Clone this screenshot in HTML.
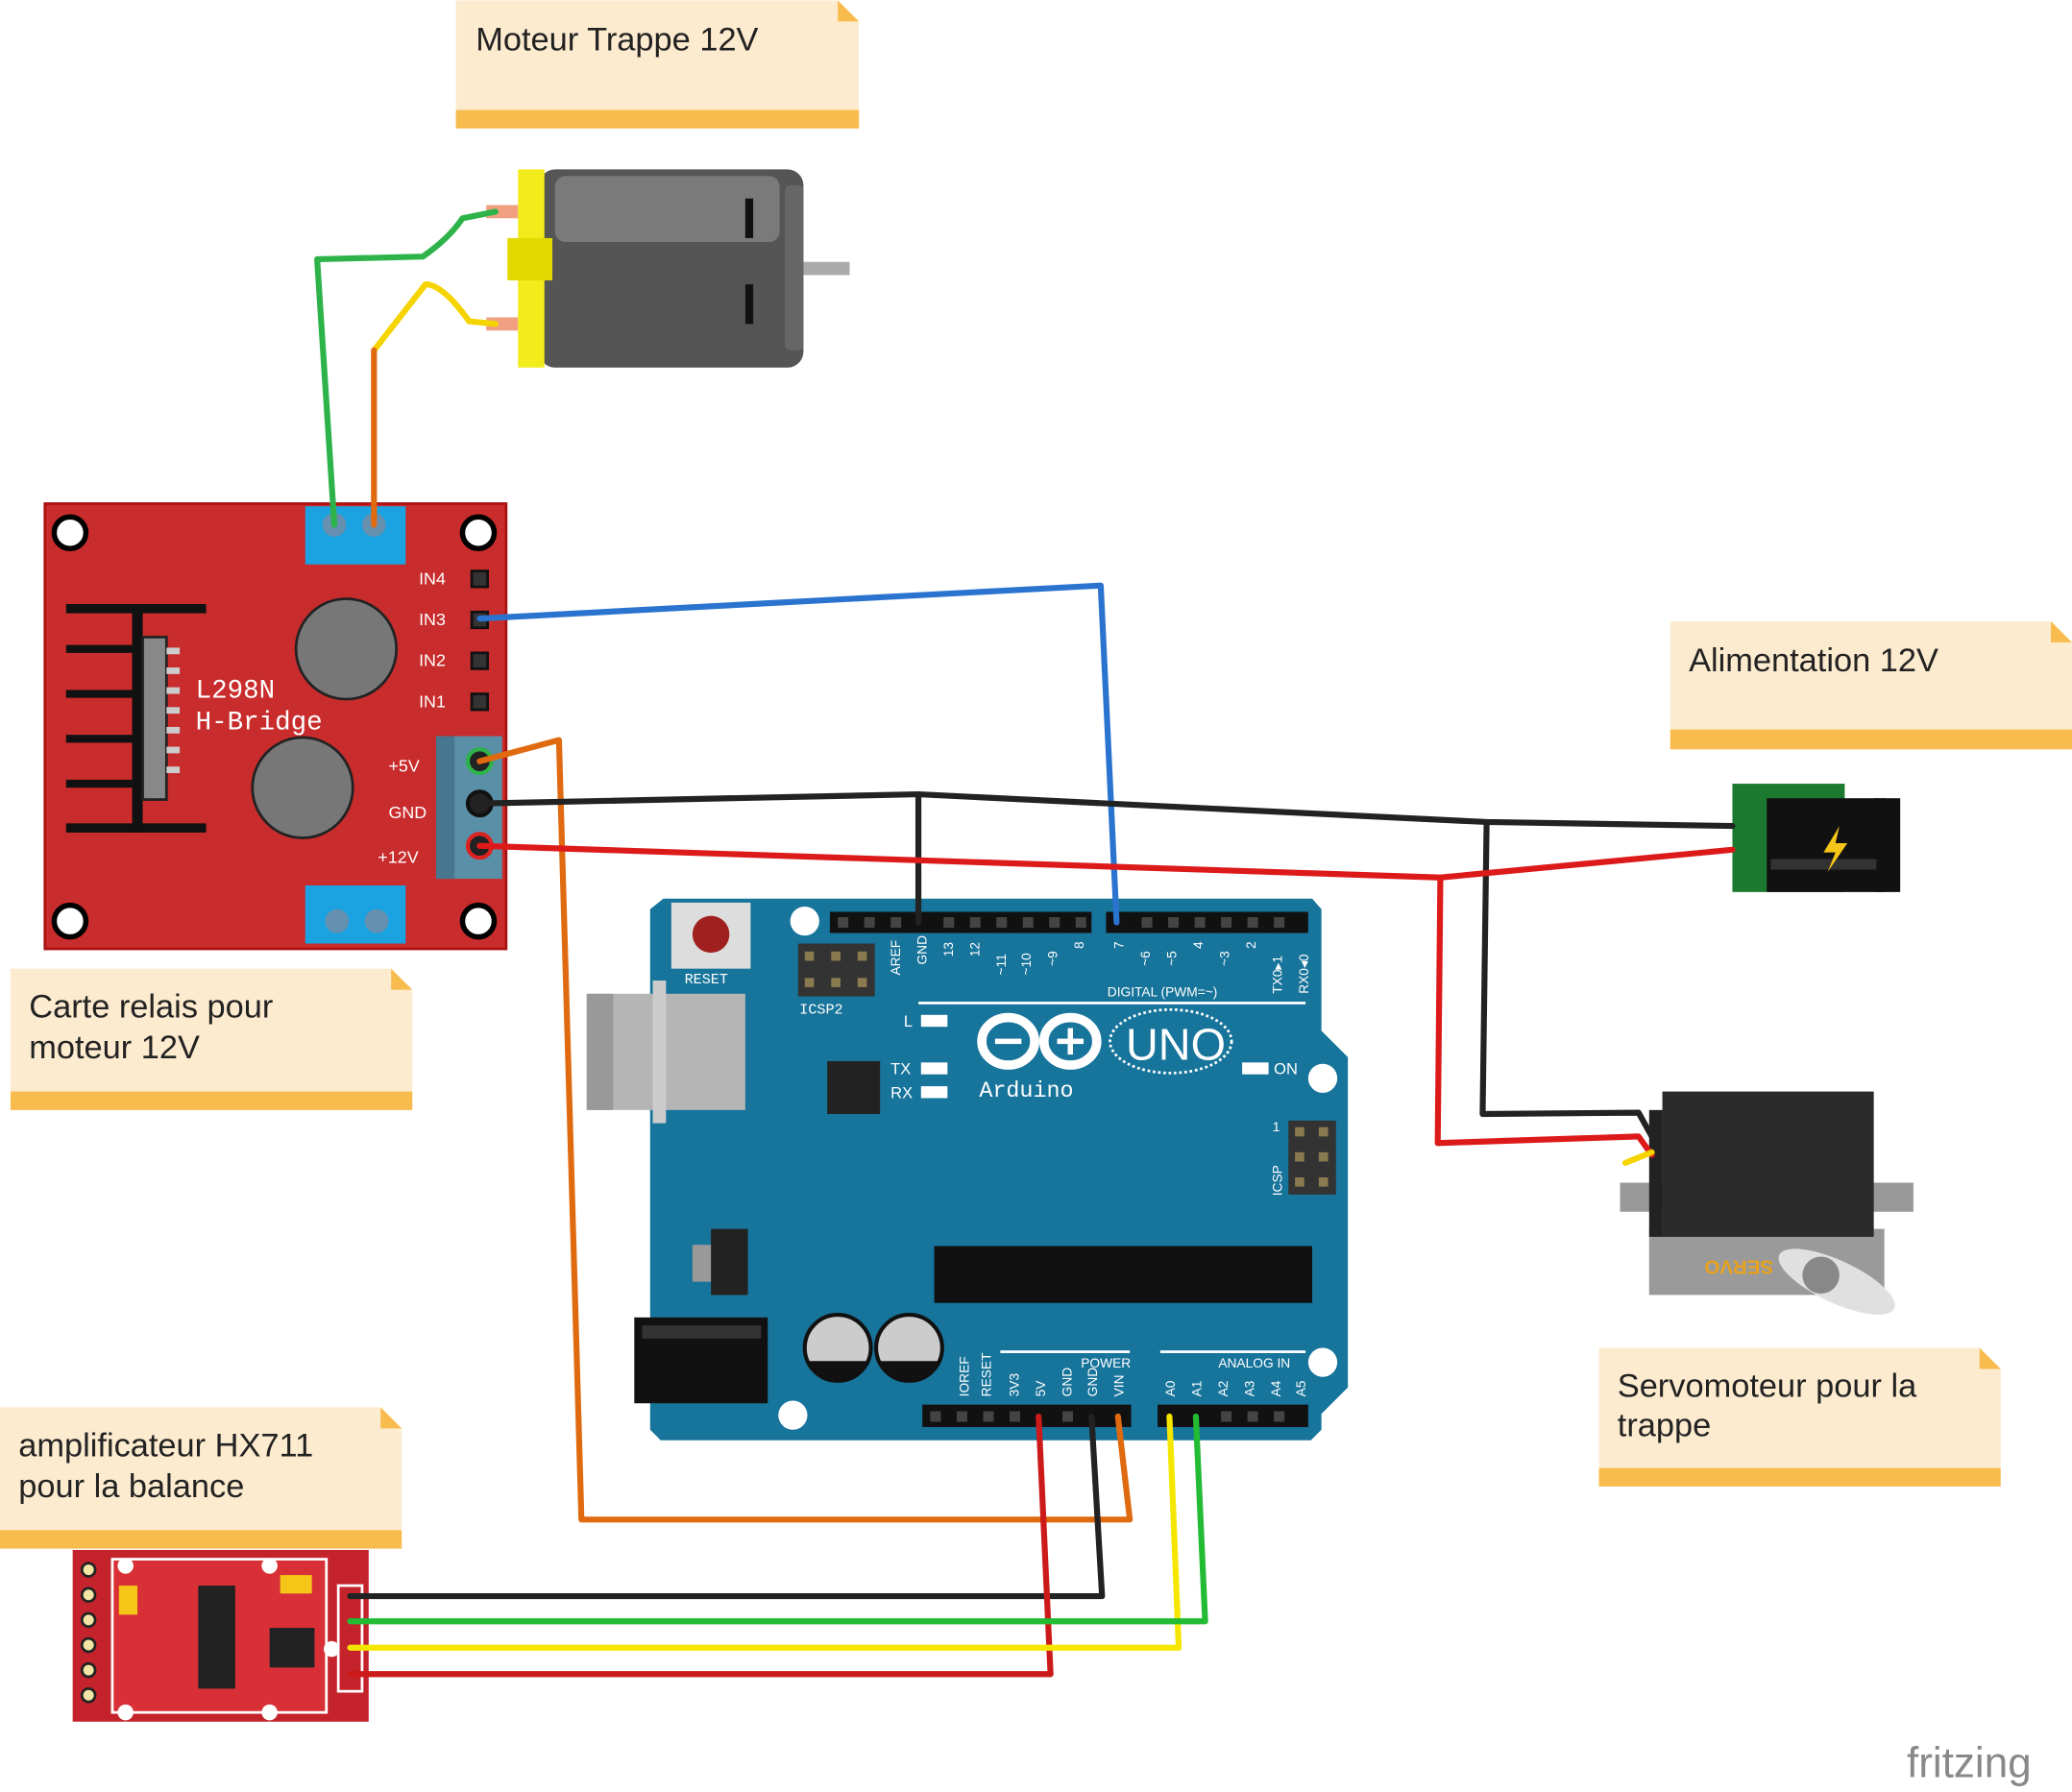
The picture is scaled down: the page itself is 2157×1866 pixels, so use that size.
<!DOCTYPE html>
<html><head><meta charset="utf-8"><style>
html,body{margin:0;padding:0;background:#fff;}
svg{display:block;}
text{font-family:"Liberation Sans",sans-serif;}
.m{font-family:"Liberation Mono",monospace;}
</style></head><body>
<svg width="2157" height="1866" viewBox="0 0 1568 1356" xmlns="http://www.w3.org/2000/svg">
<rect width="1568" height="1356" fill="#fff"/>
<g>
<path d="M345 0 H634 L650 16 V97 H345 Z" fill="#fdebcf"/><rect x="345" y="83" width="305" height="14" fill="#f8bb4d"/><path d="M634 0 L650 16 H634 Z" fill="#f8bb4d"/>
<text x="360" y="38" font-size="25" fill="#222">Moteur Trappe 12V</text>
<path d="M1264 470 H1552 L1568 486 V567 H1264 Z" fill="#fdebcf"/><rect x="1264" y="552" width="304" height="15" fill="#f8bb4d"/><path d="M1552 470 L1568 486 H1552 Z" fill="#f8bb4d"/>
<text x="1278" y="508" font-size="25" fill="#222">Alimentation 12V</text>
<path d="M8 733 H296 L312 749 V840 H8 Z" fill="#fdebcf"/><rect x="8" y="826" width="304" height="14" fill="#f8bb4d"/><path d="M296 733 L312 749 H296 Z" fill="#f8bb4d"/>
<text x="22" y="770" font-size="25" fill="#222">Carte relais pour</text><text x="22" y="801" font-size="25" fill="#222">moteur 12V</text>
<path d="M0 1065 H288 L304 1081 V1172 H0 Z" fill="#fdebcf"/><rect x="0" y="1158" width="304" height="14" fill="#f8bb4d"/><path d="M288 1065 L304 1081 H288 Z" fill="#f8bb4d"/>
<text x="14" y="1102" font-size="25" fill="#222">amplificateur HX711</text><text x="14" y="1133" font-size="25" fill="#222">pour la balance</text>
<path d="M1210 1020 H1498 L1514 1036 V1125 H1210 Z" fill="#fdebcf"/><rect x="1210" y="1111" width="304" height="14" fill="#f8bb4d"/><path d="M1498 1020 L1514 1036 H1498 Z" fill="#f8bb4d"/>
<text x="1224" y="1057" font-size="25" fill="#222">Servomoteur pour  la</text><text x="1224" y="1087" font-size="25" fill="#222">trappe</text>
</g>
<g>
<rect x="600" y="198" width="43" height="10" fill="#aaa"/>
<rect x="408" y="128" width="200" height="150" rx="12" fill="#555"/>
<rect x="420" y="133" width="170" height="50" rx="8" fill="#7a7a7a"/>
<rect x="594" y="140" width="14" height="125" rx="4" fill="#666"/>
<rect x="564" y="150" width="6" height="30" fill="#111"/><rect x="564" y="215" width="6" height="30" fill="#111"/>
<rect x="392" y="128" width="20" height="150" fill="#f2ec1c"/>
<rect x="384" y="180" width="34" height="32" fill="#e3d800"/>
<rect x="368" y="155" width="24" height="10" fill="#f0a080"/><rect x="368" y="240" width="24" height="10" fill="#f0a080"/>
</g>
<g>
<rect x="34" y="381" width="349" height="337" fill="#c92c2c" stroke="#a11" stroke-width="2"/>
<circle cx="53" cy="403" r="12" fill="#fff" stroke="#000" stroke-width="4"/><circle cx="362" cy="403" r="12" fill="#fff" stroke="#000" stroke-width="4"/>
<circle cx="53" cy="697" r="12" fill="#fff" stroke="#000" stroke-width="4"/><circle cx="362" cy="697" r="12" fill="#fff" stroke="#000" stroke-width="4"/>
<rect x="231" y="383" width="76" height="44" fill="#1aa3e0"/><circle cx="253" cy="397" r="9" fill="#6690b0"/><circle cx="283" cy="397" r="9" fill="#6690b0"/>
<rect x="231" y="670" width="76" height="44" fill="#1aa3e0"/><circle cx="255" cy="697" r="9" fill="#6690b0"/><circle cx="285" cy="697" r="9" fill="#6690b0"/>
<g fill="#111"><rect x="50" y="457" width="106" height="7"/><rect x="50" y="623" width="106" height="7"/>
<rect x="50" y="488" width="56" height="6"/><rect x="50" y="522" width="56" height="6"/><rect x="50" y="556" width="56" height="6"/><rect x="50" y="590" width="56" height="6"/>
<rect x="100" y="457" width="8" height="173"/></g>
<rect x="108" y="482" width="18" height="123" fill="#888" stroke="#222" stroke-width="2"/>
<g fill="#ccc"><rect x="126" y="490" width="10" height="5"/><rect x="126" y="505" width="10" height="5"/><rect x="126" y="520" width="10" height="5"/><rect x="126" y="535" width="10" height="5"/><rect x="126" y="550" width="10" height="5"/><rect x="126" y="565" width="10" height="5"/><rect x="126" y="580" width="10" height="5"/></g>
<circle cx="262" cy="491" r="38" fill="#777" stroke="#222" stroke-width="2"/>
<circle cx="229" cy="596" r="38" fill="#777" stroke="#222" stroke-width="2"/>
<text x="148" y="528" class="m" font-size="20" fill="#fff">L298N</text><text x="148" y="552" class="m" font-size="20" fill="#fff">H-Bridge</text>
<g class="m" font-size="13" fill="#fff"><text x="317" y="442">IN4</text><text x="317" y="473">IN3</text><text x="317" y="504">IN2</text><text x="317" y="535">IN1</text>
<text x="294" y="584">+5V</text><text x="294" y="619">GND</text><text x="286" y="653">+12V</text></g>
<g fill="#333" stroke="#111" stroke-width="2"><rect x="357" y="432" width="12" height="12"/><rect x="357" y="463" width="12" height="12"/><rect x="357" y="494" width="12" height="12"/><rect x="357" y="525" width="12" height="12"/></g>
<rect x="330" y="557" width="50" height="108" fill="#5a8fa8"/><rect x="330" y="557" width="14" height="108" fill="#47778f"/>
<circle cx="363" cy="576" r="9" fill="#222" stroke="#2db34a" stroke-width="3"/><circle cx="363" cy="608" r="9" fill="#222" stroke="#111" stroke-width="3"/><circle cx="363" cy="640" r="9" fill="#222" stroke="#d22" stroke-width="3"/>
</g>
<g>
<path d="M502 680 H993 L1000 688 V780 L1020 800 V1050 L1000 1070 V1082 L992 1090 H500 L492 1082 V688 Z" fill="#17749b"/>
<rect x="444" y="752" width="120" height="88" fill="#b5b5b5"/><rect x="444" y="752" width="20" height="88" fill="#999"/>
<rect x="494" y="742" width="10" height="108" fill="#ccc"/>
<rect x="480" y="997" width="101" height="65" fill="#111"/><rect x="486" y="1003" width="90" height="10" fill="#333"/>
<rect x="508" y="683" width="60" height="50" fill="#ddd"/><circle cx="538" cy="707" r="14" fill="#a02020"/>
<text x="518" y="744" class="m" font-size="11" fill="#fff">RESET</text>
<rect x="604" y="714" width="58" height="40" fill="#333"/>
<g fill="#8a7a50"><rect x="609" y="720" width="7" height="7"/><rect x="629" y="720" width="7" height="7"/><rect x="649" y="720" width="7" height="7"/><rect x="609" y="740" width="7" height="7"/><rect x="629" y="740" width="7" height="7"/><rect x="649" y="740" width="7" height="7"/></g>
<text x="605" y="767" class="m" font-size="11" fill="#fff">ICSP2</text>
<rect x="626" y="803" width="40" height="40" fill="#222"/>
<rect x="628" y="690" width="198" height="16" fill="#111"/><rect x="837" y="690" width="153" height="16" fill="#111"/>
<rect x="698" y="1063" width="158" height="17" fill="#111"/><rect x="876" y="1063" width="114" height="17" fill="#111"/>
<g fill="#444"><rect x="634" y="694" width="8" height="8"/><rect x="654" y="694" width="8" height="8"/><rect x="674" y="694" width="8" height="8"/><rect x="714" y="694" width="8" height="8"/><rect x="734" y="694" width="8" height="8"/><rect x="754" y="694" width="8" height="8"/><rect x="774" y="694" width="8" height="8"/><rect x="794" y="694" width="8" height="8"/><rect x="814" y="694" width="8" height="8"/>
<rect x="864" y="694" width="8" height="8"/><rect x="884" y="694" width="8" height="8"/><rect x="904" y="694" width="8" height="8"/><rect x="924" y="694" width="8" height="8"/><rect x="944" y="694" width="8" height="8"/><rect x="964" y="694" width="8" height="8"/>
<rect x="704" y="1068" width="8" height="8"/><rect x="724" y="1068" width="8" height="8"/><rect x="744" y="1068" width="8" height="8"/><rect x="764" y="1068" width="8" height="8"/><rect x="804" y="1068" width="8" height="8"/><rect x="924" y="1068" width="8" height="8"/><rect x="944" y="1068" width="8" height="8"/><rect x="964" y="1068" width="8" height="8"/></g>
<g class="m" font-size="10" fill="#fff">
<text transform="translate(681 738) rotate(-90)">AREF</text><text transform="translate(701 730) rotate(-90)">GND</text>
<text transform="translate(721 724) rotate(-90)">13</text><text transform="translate(741 724) rotate(-90)">12</text><text transform="translate(761 738) rotate(-90)">~11</text><text transform="translate(780 738) rotate(-90)">~10</text><text transform="translate(800 731) rotate(-90)">~9</text><text transform="translate(820 718) rotate(-90)">8</text>
<text transform="translate(850 718) rotate(-90)">7</text><text transform="translate(870 731) rotate(-90)">~6</text><text transform="translate(890 731) rotate(-90)">~5</text><text transform="translate(910 718) rotate(-90)">4</text><text transform="translate(930 731) rotate(-90)">~3</text><text transform="translate(950 718) rotate(-90)">2</text><text transform="translate(970 752) rotate(-90)">TX0▸1</text><text transform="translate(990 752) rotate(-90)">RX0◂0</text>
<text transform="translate(733 1057) rotate(-90)">IOREF</text><text transform="translate(750 1057) rotate(-90)">RESET</text><text transform="translate(771 1057) rotate(-90)">3V3</text><text transform="translate(791 1057) rotate(-90)">5V</text><text transform="translate(811 1057) rotate(-90)">GND</text><text transform="translate(830 1057) rotate(-90)">GND</text><text transform="translate(850 1057) rotate(-90)">VIN</text>
<text transform="translate(889 1057) rotate(-90)">A0</text><text transform="translate(909 1057) rotate(-90)">A1</text><text transform="translate(929 1057) rotate(-90)">A2</text><text transform="translate(949 1057) rotate(-90)">A3</text><text transform="translate(969 1057) rotate(-90)">A4</text><text transform="translate(988 1057) rotate(-90)">A5</text>
<text transform="translate(970 905) rotate(-90)">ICSP</text><text x="963" y="856">1</text>
</g>
<rect x="707" y="943" width="286" height="43" fill="#111"/>
<rect x="538" y="930" width="28" height="50" fill="#222"/><rect x="524" y="942" width="14" height="28" fill="#999"/>
<circle cx="634" cy="1020" r="25" fill="#ccc" stroke="#111" stroke-width="3"/><path d="M611 1030 A25 25 0 0 0 657 1030 Z" fill="#111"/>
<circle cx="688" cy="1020" r="25" fill="#ccc" stroke="#111" stroke-width="3"/><path d="M665 1030 A25 25 0 0 0 711 1030 Z" fill="#111"/>
<circle cx="609" cy="697" r="11" fill="#fff"/><circle cx="1001" cy="816" r="11" fill="#fff"/><circle cx="1001" cy="1031" r="11" fill="#fff"/><circle cx="600" cy="1071" r="11" fill="#fff"/>
<rect x="975" y="848" width="36" height="56" fill="#333"/>
<g fill="#8a7a50"><rect x="980" y="853" width="7" height="7"/><rect x="998" y="853" width="7" height="7"/><rect x="980" y="872" width="7" height="7"/><rect x="998" y="872" width="7" height="7"/><rect x="980" y="891" width="7" height="7"/><rect x="998" y="891" width="7" height="7"/></g>
<g fill="#fff"><rect x="697" y="768" width="20" height="9"/><rect x="697" y="804" width="20" height="9"/><rect x="697" y="822" width="20" height="9"/><rect x="940" y="804" width="20" height="9"/></g>
<g class="m" font-size="12" fill="#fff"><text x="684" y="777">L</text><text x="674" y="813">TX</text><text x="674" y="831">RX</text><text x="964" y="813">ON</text>
<text x="838" y="754" font-size="10">DIGITAL (PWM=~)</text><text x="818" y="1035" font-size="10">POWER</text><text x="922" y="1035" font-size="10">ANALOG IN</text></g>
<rect x="695" y="758" width="293" height="2" fill="#fff"/><rect x="757" y="1022" width="98" height="2" fill="#fff"/><rect x="878" y="1022" width="110" height="2" fill="#fff"/>
<g fill="none" stroke="#fff" stroke-width="7"><ellipse cx="763" cy="788" rx="20" ry="18"/><ellipse cx="810" cy="788" rx="20" ry="18"/></g>
<rect x="753" y="786" width="20" height="4" fill="#fff"/><rect x="800" y="786" width="20" height="4" fill="#fff"/><rect x="808" y="778" width="4" height="20" fill="#fff"/>
<ellipse cx="886" cy="788" rx="46" ry="24" fill="none" stroke="#fff" stroke-width="2" stroke-dasharray="2 2"/>
<text x="852" y="802" font-size="34" fill="#fff">UNO</text>
<text x="741" y="830" class="m" font-size="17" fill="#fff">Arduino</text>
</g>
<g>
<rect x="1311" y="593" width="85" height="82" fill="#1b7a30"/>
<rect x="1337" y="604" width="90" height="71" fill="#111"/><rect x="1418" y="604" width="20" height="71" fill="#111"/>
<rect x="1340" y="650" width="80" height="8" fill="#333"/>
<path d="M1392 625 L1380 645 H1389 L1383 660 L1398 638 H1389 Z" fill="#f5c518"/>
</g>
<g>
<rect x="1226" y="895" width="222" height="22" fill="#999"/>
<rect x="1248" y="930" width="178" height="50" fill="#9a9a9a"/>
<rect x="1258" y="826" width="160" height="110" fill="#2b2b2b"/><rect x="1248" y="840" width="10" height="96" fill="#222"/>
<ellipse cx="1390" cy="970" rx="48" ry="16" fill="#e0e0e0" transform="rotate(25 1390 970)"/><circle cx="1378" cy="965" r="14" fill="#888"/>
<text x="1268" y="966" font-size="15" font-weight="bold" fill="#e8a21c" transform="rotate(180 1305 960)">SERVO</text>
</g>
<g>
<rect x="55" y="1173" width="224" height="130" fill="#c4232b"/>
<rect x="85" y="1180" width="162" height="116" fill="#d93038" stroke="#fff" stroke-width="2"/>
<rect x="150" y="1200" width="28" height="78" fill="#222"/>
<rect x="204" y="1232" width="34" height="30" fill="#222"/>
<rect x="90" y="1200" width="14" height="22" fill="#f5c518"/><rect x="212" y="1192" width="24" height="14" fill="#f5c518"/>
<rect x="256" y="1200" width="18" height="80" fill="#c4232b" stroke="#fff" stroke-width="2"/>
<g fill="#f3e6a5" stroke="#222" stroke-width="2"><circle cx="67" cy="1188" r="5"/><circle cx="67" cy="1207" r="5"/><circle cx="67" cy="1226" r="5"/><circle cx="67" cy="1245" r="5"/><circle cx="67" cy="1264" r="5"/><circle cx="67" cy="1283" r="5"/></g>
<g fill="#fff"><circle cx="95" cy="1185" r="6"/><circle cx="204" cy="1185" r="6"/><circle cx="95" cy="1296" r="6"/><circle cx="204" cy="1296" r="6"/><circle cx="251" cy="1248" r="6"/></g>
</g>
<g fill="none" stroke-width="4.5" stroke-linejoin="round" stroke-linecap="round">
<path d="M253 397 L240 196 L320 194 Q340 180 350 165 L375 160" stroke="#2db34a"/>
<path d="M375 245 L355 243 Q335 215 322 215 L283 265" stroke="#f5d400"/>
<path d="M283 265 L283 397" stroke="#e06a10"/>
<path d="M363 468 L833 443 L845 698" stroke="#2a74d0"/>
<path d="M363 576 L423 560 L440 1150 L855 1150 L846 1072" stroke="#e06a10"/>
<path d="M363 608 L695 601 L1125 622 L1311 625 M695 601 L695 698 M1125 622 L1122 843 L1240 842 L1250 860" stroke="#222"/>
<path d="M363 640 L1090 664 L1311 643 M1090 664 L1088 865 L1240 860 L1250 874" stroke="#dd1a1a"/>
<path d="M1230 880 L1250 872" stroke="#f5d400"/>
<path d="M826 1072 L834 1208 L265 1208" stroke="#222"/>
<path d="M786 1072 L795 1267 L265 1267" stroke="#cc1a1a"/>
<path d="M885 1072 L892 1247 L265 1247" stroke="#f5e600"/>
<path d="M905 1072 L912 1227 L265 1227" stroke="#22bb33"/>
</g>
<text x="1443" y="1345" font-size="32" fill="#888">fritzing</text>
</svg>
</body></html>
